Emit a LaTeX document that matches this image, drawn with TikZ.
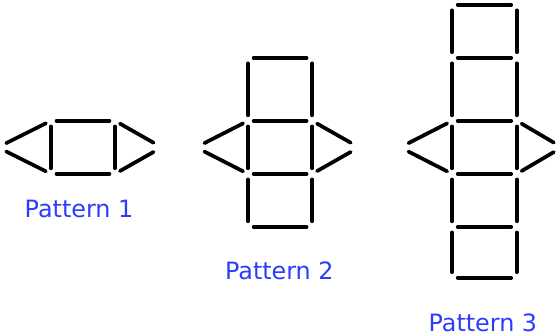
\documentclass[tikz,border=0pt]{standalone}
\usepackage{fontspec}
\setsansfont{DejaVu Sans}
\definecolor{patblue}{RGB}{45,60,250}
\begin{document}
\begin{tikzpicture}[stick/.style={line width=2pt,line cap=round,shorten <=3pt,shorten >=3pt},
  tipstick/.style={stick,shorten >=5pt},
  patlabel/.style={text=patblue,font=\sffamily\fontsize{12.8}{15}\selectfont}]
\useasboundingbox (0,0) rectangle (10.49,6.32);
% pattern 1
\draw[stick] (0.96,4.04) -- (2.17,4.04);
\draw[stick] (0.96,3.04) -- (2.17,3.04);
\draw[stick] (0.96,4.04) -- (0.96,3.04);
\draw[stick] (2.17,4.04) -- (2.17,3.04);
\draw[tipstick] (0.96,4.04) -- (-0.04,3.54);
\draw[tipstick] (0.96,3.04) -- (-0.04,3.54);
\draw[tipstick] (2.17,4.04) -- (3.05,3.54);
\draw[tipstick] (2.17,3.04) -- (3.05,3.54);
\node[patlabel] (lab1) at (1.49,2.38) {Pattern 1};

% pattern 2
\draw[stick] (4.68,5.23) -- (5.89,5.23);
\draw[stick] (4.68,5.23) -- (4.68,4.04);
\draw[stick] (5.89,5.23) -- (5.89,4.04);
\draw[stick] (4.68,4.04) -- (5.89,4.04);
\draw[stick] (4.68,3.04) -- (5.89,3.04);
\draw[stick] (4.68,4.04) -- (4.68,3.04);
\draw[stick] (5.89,4.04) -- (5.89,3.04);
\draw[tipstick] (4.68,4.04) -- (3.70,3.54);
\draw[tipstick] (4.68,3.04) -- (3.70,3.54);
\draw[tipstick] (5.89,4.04) -- (6.77,3.54);
\draw[tipstick] (5.89,3.04) -- (6.77,3.54);
\draw[stick] (4.68,3.04) -- (4.68,2.04);
\draw[stick] (5.89,3.04) -- (5.89,2.04);
\draw[stick] (4.68,2.04) -- (5.89,2.04);
\node[patlabel] (lab2) at (5.27,1.21) {Pattern 2};

% pattern 3
\draw[stick] (8.53,6.23) -- (9.75,6.23);
\draw[stick] (8.53,6.23) -- (8.53,5.23);
\draw[stick] (9.75,6.23) -- (9.75,5.23);
\draw[stick] (8.53,5.23) -- (9.75,5.23);
\draw[stick] (8.53,5.23) -- (8.53,4.04);
\draw[stick] (9.75,5.23) -- (9.75,4.04);
\draw[stick] (8.53,4.04) -- (9.75,4.04);
\draw[stick] (8.53,3.04) -- (9.75,3.04);
\draw[stick] (8.53,4.04) -- (8.53,3.04);
\draw[stick] (9.75,4.04) -- (9.75,3.04);
\draw[tipstick] (8.53,4.04) -- (7.55,3.54);
\draw[tipstick] (8.53,3.04) -- (7.55,3.54);
\draw[tipstick] (9.75,4.04) -- (10.60,3.54);
\draw[tipstick] (9.75,3.04) -- (10.60,3.54);
\draw[stick] (8.53,3.04) -- (8.53,2.04);
\draw[stick] (9.75,3.04) -- (9.75,2.04);
\draw[stick] (8.53,2.04) -- (9.75,2.04);
\draw[stick] (8.53,2.04) -- (8.53,1.08);
\draw[stick] (9.75,2.04) -- (9.75,1.08);
\draw[stick] (8.53,1.08) -- (9.75,1.08);
\node[patlabel] (lab3) at (9.11,0.23) {Pattern 3};
\end{tikzpicture}
\end{document}
